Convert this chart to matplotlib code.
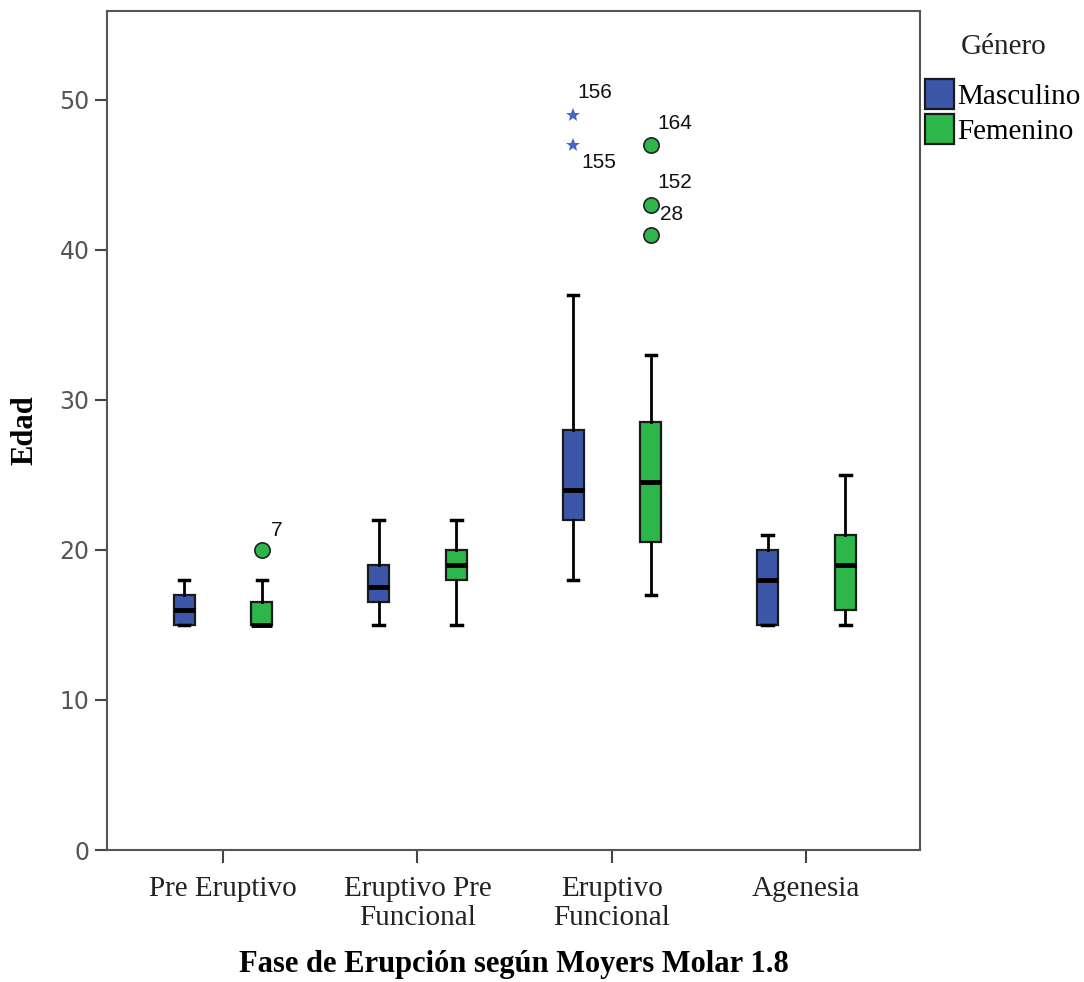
import matplotlib.pyplot as plt
import matplotlib.patches as mpatches
import numpy as np

# Fases de erupción (eje X)
categories = ['Pre Eruptivo', 'Eruptivo Pre\nFuncional', 'Eruptivo\nFuncional', 'Agenesia']

# Resumen de cinco números por fase: mínimo, Q1, mediana, Q3, máximo
masc_low = [15, 15, 18, 15]
masc_q1 = [15, 16.5, 22, 15]
masc_med = [16, 17.5, 24, 18]
masc_q3 = [17, 19, 28, 20]
masc_high = [18, 22, 37, 21]

fem_low = [15, 15, 17, 15]
fem_q1 = [15, 18, 20.5, 16]
fem_med = [15, 19, 24.5, 19]
fem_q3 = [16.5, 20, 28.5, 21]
fem_high = [18, 22, 33, 25]

# Valores atípicos: (fase, edad, caso)
masc_extremes = [(2, 49, '156'), (2, 47, '155')]
fem_outliers = [(0, 20, '7'), (2, 47, '164'), (2, 43, '152'), (2, 41, '28')]

blue = '#3c57a8'
green = '#2db74a'
star_blue = '#4a66c0'


def make_stats(low, q1, med, q3, high):
    return [dict(whislo=a, q1=b, med=c, q3=d, whishi=e, fliers=[])
            for a, b, c, d, e in zip(low, q1, med, q3, high)]


fig = plt.figure(figsize=(10.84, 9.82), dpi=100)
ax = fig.add_axes([0.0987, 0.1344, 0.75, 0.8544])

x = np.arange(len(categories))
offset = 0.2
width = 0.108

common = dict(widths=width, patch_artist=True, showfliers=False,
              whiskerprops=dict(color='black', linewidth=2),
              capprops=dict(color='black', linewidth=2.5),
              medianprops=dict(color='black', linewidth=3.5, solid_capstyle='butt'),
              manage_ticks=False)

bm = ax.bxp(make_stats(masc_low, masc_q1, masc_med, masc_q3, masc_high),
            positions=x - offset, boxprops=dict(facecolor=blue, edgecolor='#1a1a1a', linewidth=1.6),
            **common)
bf = ax.bxp(make_stats(fem_low, fem_q1, fem_med, fem_q3, fem_high),
            positions=x + offset, boxprops=dict(facecolor=green, edgecolor='#1a1a1a', linewidth=1.6),
            **common)
for cap in bm['caps'] + bf['caps']:
    xd = cap.get_xdata()
    c = (xd[0] + xd[1]) / 2
    cap.set_xdata([c - width / 4, c + width / 4])

# Valores extremos (masculino) con estrella
for cat, val, lab in masc_extremes:
    ax.plot(x[cat] - offset, val, marker='*', color=star_blue, markersize=10,
            markeredgewidth=0, linestyle='none')

# Valores atípicos (femenino) con círculo
for cat, val, lab in fem_outliers:
    ax.plot(x[cat] + offset, val, marker='o', color=green, markeredgecolor='#222222',
            markersize=11, markeredgewidth=1.2, linestyle='none')

# Etiquetas de caso
label_offsets = {'156': (22, 22), '155': (26, -18), '7': (15, 19),
                 '164': (24, 21), '152': (24, 22), '28': (21, 20)}
for cat, val, lab in masc_extremes:
    ax.annotate(lab, (x[cat] - offset, val), xytext=label_offsets[lab],
                textcoords='offset pixels', ha='center', va='center',
                fontsize=15, family='Liberation Sans', color='#111111')
for cat, val, lab in fem_outliers:
    ax.annotate(lab, (x[cat] + offset, val), xytext=label_offsets[lab],
                textcoords='offset pixels', ha='center', va='center',
                fontsize=15, family='Liberation Sans', color='#111111')

ax.set_xlim(-0.596, 3.584)
ax.set_ylim(0, 55.9)
ax.set_yticks([0, 10, 20, 30, 40, 50])
ax.set_xticks(x)
ax.set_xticklabels(categories, family='Liberation Serif', fontsize=21, color='#222222',
                   linespacing=1.15)
ax.tick_params(axis='y', labelsize=17, labelcolor='#555555', length=9, width=1.5, color='#444444')
ax.tick_params(axis='x', length=9, width=1.5, color='#444444', pad=10)
for sp in ax.spines.values():
    sp.set_color('#555555')
    sp.set_linewidth(1.5)

ax.set_ylabel('Edad', family='Liberation Serif', fontweight='bold', fontsize=22, labelpad=14)
ax.set_xlabel('Fase de Erupción según Moyers Molar 1.8', family='Liberation Serif',
              fontweight='bold', fontsize=22, va='center')
ax.xaxis.set_label_coords(0.5, -0.137)

# Leyenda de género, con el título colocado aparte
fig.text(1004 / 1084, 1 - 47 / 982, 'Género', family='Liberation Serif', fontsize=21,
         color='#222222', ha='center', va='center')
handles = [mpatches.Patch(facecolor=blue, edgecolor='#1a1a1a', linewidth=1.6, label='Masculino'),
           mpatches.Patch(facecolor=green, edgecolor='#1a1a1a', linewidth=1.6, label='Femenino')]
leg = ax.legend(handles=handles, loc='upper left', bbox_to_anchor=(1.006, 0.919),
                frameon=False, prop=dict(family='Liberation Serif', size=21),
                handlelength=1.0, handleheight=1.2, handletextpad=0.1, labelspacing=0.15,
                borderaxespad=0, borderpad=0)

fig.savefig('out.png', dpi=100)
